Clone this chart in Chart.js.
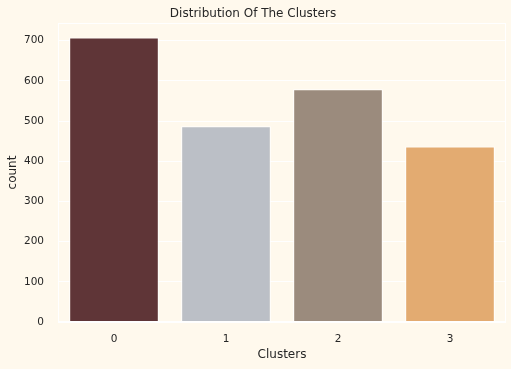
<!DOCTYPE html>
<html><head><meta charset="utf-8">
<script src="https://cdn.jsdelivr.net/npm/chart.js@4/dist/chart.umd.min.js"></script>
<style>html,body{margin:0;padding:0;background:#FFF9ED;}#wrap{width:511px;height:369px;}</style>
</head><body><div id="wrap"><canvas id="c" width="511" height="369"></canvas></div>
<script>
const categories = ["0", "1", "2", "3"];
const counts = [708, 487, 579, 437];
const barColors = ["#5F3537", "#BBBFC6", "#9B8B7D", "#E3AB71"];
const yTicks = [0, 100, 200, 300, 400, 500, 600, 700];

const frame = {
  id: 'frame',
  beforeDraw(chart) {
    const ctx = chart.ctx;
    ctx.save();
    ctx.fillStyle = '#FFF9ED';
    ctx.fillRect(0, 0, chart.width, chart.height);
    ctx.restore();
  },
  afterDatasetsDraw(chart) {
    const a = chart.chartArea, ctx = chart.ctx;
    ctx.save();
    ctx.strokeStyle = '#FFFFFF';
    ctx.lineWidth = 1;
    ctx.strokeRect(a.left + 0.5, a.top + 0.5, a.right - a.left - 1, a.bottom - a.top - 1);
    ctx.restore();
  }
};

new Chart(document.getElementById('c'), {
  type: 'bar',
  data: {
    labels: categories,
    datasets: [{
      data: counts,
      backgroundColor: barColors,
      borderColor: '#FFFFFF',
      borderWidth: 1,
      categoryPercentage: 0.8,
      barPercentage: 1.0
    }]
  },
  options: {
    responsive: false,
    animation: false,
    layout: { padding: { left: 0, right: 5, top: 0, bottom: 0 } },
    plugins: {
      legend: { display: false },
      tooltip: { enabled: false },
      title: {
        display: true,
        text: 'Distribution Of The Clusters',
        color: '#262626',
        font: { family: 'DejaVu Sans', size: 12, weight: 'normal' },
        padding: { top: 6.5, bottom: 2.1 }
      }
    },
    scales: {
      x: {
        offset: true,
        grid: { display: false, drawTicks: false },
        border: { display: false },
        ticks: { color: '#262626', font: { family: 'DejaVu Sans', size: 10.5 }, padding: 10.5 },
        title: { display: true, text: 'Clusters', color: '#262626', font: { family: 'DejaVu Sans', size: 12 }, padding: { top: 0, bottom: 7 } },
        afterFit(s) { s.height = 47; }
      },
      y: {
        min: 0,
        max: 744,
        afterBuildTicks(s) { s.ticks = yTicks.map(v => ({ value: v })); },
        grid: { color: '#FFFFFF', lineWidth: 1, drawTicks: false },
        border: { display: false },
        ticks: { color: '#262626', font: { family: 'DejaVu Sans', size: 10.5 }, padding: 14 },
        title: { display: true, text: 'count', color: '#262626', font: { family: 'DejaVu Sans', size: 12 }, padding: { top: 6, bottom: 0 } },
        afterFit(s) { s.width = 58; }
      }
    }
  },
  plugins: [frame]
});
</script></body></html>
